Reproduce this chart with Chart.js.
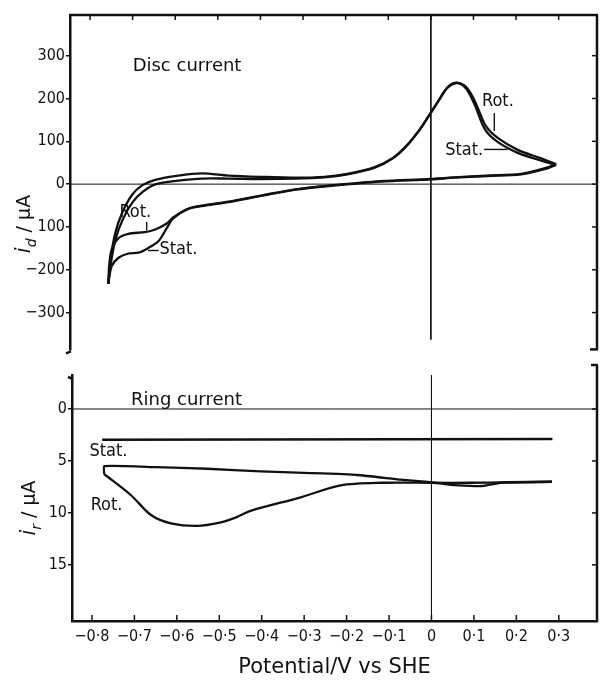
<!DOCTYPE html>
<html><head><meta charset="utf-8">
<script src="https://cdn.jsdelivr.net/npm/chart.js@4.4.1/dist/chart.umd.min.js"></script>
<style>
html,body{margin:0;padding:0;background:#fff;}
#wrap{position:relative;width:600px;height:680px;overflow:hidden;}
#c1{position:absolute;left:0;top:0;}
#c2{position:absolute;left:0;top:360px;}
</style></head><body>
<div id="wrap">
<canvas id="c1" width="600" height="360"></canvas>
<canvas id="c2" width="600" height="320"></canvas>
</div>
<script>
// ---------- data ----------
const xTickValues = [-0.8,-0.7,-0.6,-0.5,-0.4,-0.3,-0.2,-0.1,0,0.1,0.2,0.3];
const xTickLabels = ['\u22120\u00b78','\u22120\u00b77','\u22120\u00b76','\u22120\u00b75','\u22120\u00b74','\u22120\u00b73','\u22120\u00b72','\u22120\u00b71','0','0\u00b71','0\u00b72','0\u00b73'];
const discTickValues = [300,200,100,0,-100,-200,-300];
const discTickLabels = ['300','200','100','0','100','\u2212200','\u2212300'];
const ringTickValues = [0,5,10,15];
const ringTickLabels = ['0','5','10','15'];

// disc current, rotating electrode (anodic sweep, then cathodic sweep)
const discRotFwdV = [-0.757,-0.753,-0.741,-0.725,-0.702,-0.678,-0.647,-0.593,-0.537,-0.475,-0.400,-0.318,-0.250,-0.196,-0.133,-0.088,-0.057,-0.026,-0.006,0.016,0.039,0.059,0.078,0.092,0.106,0.129,0.157,0.204,0.259,0.294];
const discRotFwdI = [-233,-184,-115,-68,-26,-3,10,20,25,20,17,15,17,24,39,62,90,128,158,192,226,237,231,215,188,136,108,80,60,47];
const discRotRevV = [0.294,0.274,0.212,0.133,0.055,0.000,-0.118,-0.235,-0.318,-0.396,-0.475,-0.529,-0.569,-0.605,-0.620,-0.647,-0.671,-0.710,-0.733,-0.749,-0.755,-0.757];
const discRotRevI = [47,39,24,20,16,12,7,-3,-12,-26,-41,-49,-57,-78,-92,-106,-112,-116,-126,-152,-191,-233];
// disc current, stationary electrode
const discStatFwdV = [-0.757,-0.752,-0.740,-0.722,-0.700,-0.675,-0.645,-0.593,-0.537,-0.475,-0.400,-0.318,-0.250,-0.196,-0.133,-0.088,-0.057,-0.026,-0.006,0.016,0.039,0.059,0.076,0.090,0.104,0.127,0.155,0.204,0.259,0.294];
const discStatFwdI = [-233,-190,-128,-80,-42,-17,0,8,13,13,12,13,16,23,38,61,89,127,157,191,225,236,230,212,183,128,100,73,55,45];
const discStatRevV = [0.294,0.274,0.212,0.133,0.055,0.000,-0.118,-0.235,-0.318,-0.396,-0.475,-0.529,-0.569,-0.605,-0.620,-0.639,-0.663,-0.686,-0.710,-0.733,-0.749,-0.755,-0.757];
const discStatRevI = [45,37,23,19,15,11,6,-4,-13,-27,-42,-50,-58,-80,-103,-133,-149,-160,-162,-172,-191,-218,-233];

// ring current
const ringRotFwdV = [-0.771,-0.771,-0.650,-0.528,-0.402,-0.300,-0.175,-0.073,-0.002,0.045,0.090,0.123,0.162,0.220,0.284];
const ringRotFwdI = [6.3,5.5,5.6,5.75,6.0,6.15,6.35,6.8,7.05,7.3,7.4,7.4,7.1,7.05,7.0];
const ringRotRevV = [0.284,0.180,0.092,-0.002,-0.112,-0.214,-0.308,-0.426,-0.465,-0.496,-0.551,-0.614,-0.661,-0.708,-0.767,-0.771];
const ringRotRevI = [7.0,7.05,7.1,7.1,7.1,7.35,8.5,9.8,10.5,10.9,11.25,11.0,10.2,8.3,6.4,6.3];
const ringStatV = [-0.776,0.285];
const ringStatI = [2.95,2.9];

// ---------- helpers ----------
const X_MIN = -0.847, X_MAX = 0.39;
const DISC_MIN = -386, DISC_MAX = 395;
const RING_MIN = -3.27, RING_MAX = 20.4;
const INK = '#111';
const NARROW = "'DejaVu Sans Condensed','Liberation Sans Narrow','DejaVu Sans',sans-serif";
const TICK_FONT = {family: NARROW, size: 16};
const pts = (vs, is) => vs.map((v, k) => ({x: v, y: is[k]}));

function curve(label, data, w, t) {
  return {label, data, borderColor: INK, backgroundColor: INK, borderWidth: w,
          pointRadius: 0, tension: t, fill: false};
}
function seg(ctx, x1, y1, x2, y2) { ctx.beginPath(); ctx.moveTo(x1, y1); ctx.lineTo(x2, y2); ctx.stroke(); }
function dataSeg(chart, v1, i1, v2, i2, w) {
  const {ctx, scales: {x, y}} = chart;
  ctx.save(); ctx.strokeStyle = INK; ctx.lineWidth = w;
  seg(ctx, x.getPixelForValue(v1), y.getPixelForValue(i1), x.getPixelForValue(v2), y.getPixelForValue(i2));
  ctx.restore();
}
function dataText(chart, txt, v, i, font, align, baseline) {
  const {ctx, scales: {x, y}} = chart;
  ctx.save(); ctx.fillStyle = INK; ctx.font = font;
  ctx.textAlign = align || 'left'; ctx.textBaseline = baseline || 'middle';
  ctx.fillText(txt, x.getPixelForValue(v), y.getPixelForValue(i));
  ctx.restore();
}
function yTitle(ctx, cx, cy, sub) {
  ctx.save(); ctx.translate(cx, cy); ctx.rotate(-Math.PI / 2);
  ctx.fillStyle = INK; ctx.textBaseline = 'middle'; ctx.textAlign = 'left';
  const f1 = "italic 21px 'DejaVu Sans'", f2 = "italic 14px 'DejaVu Sans'", f3 = "19px 'DejaVu Sans'";
  ctx.font = f1; const w1 = ctx.measureText('i').width;
  ctx.font = f2; const w2 = ctx.measureText(sub).width;
  ctx.font = f3; const w3 = ctx.measureText(' / \u03bcA').width;
  let p = -(w1 + w2 + w3) / 2;
  ctx.font = f1; ctx.fillText('i', p, 0); p += w1;
  ctx.font = f2; ctx.fillText(sub, p, 7); p += w2;
  ctx.font = f3; ctx.fillText(' / \u03bcA', p, 0);
  ctx.restore();
}
const LABEL_FONT = "18px " + NARROW;
const TITLE_FONT = "18px 'DejaVu Sans'";

// ---------- top panel: disc current ----------
const frameDisc = {
  id: 'frameDisc',
  afterDraw(chart) {
    const {ctx, chartArea: a, scales: {x, y}} = chart;
    ctx.save(); ctx.strokeStyle = INK; ctx.lineCap = 'butt';
    ctx.lineWidth = 2.5;
    seg(ctx, a.left - 1, a.top, a.right + 1, a.top);
    seg(ctx, a.right, a.top, a.right, a.bottom);
    seg(ctx, a.right + 1, a.bottom, a.right - 7, a.bottom);
    seg(ctx, a.left + 1, a.bottom + 2, a.left - 4, a.bottom + 4);
    ctx.lineWidth = 1.5;
    xTickValues.forEach(v => { const px = x.getPixelForValue(v); seg(ctx, px, a.top, px, a.top + 5); });
    discTickValues.forEach(v => { const py = y.getPixelForValue(v); seg(ctx, a.right, py, a.right - 5, py); });
    ctx.restore();
    dataText(chart, 'Disc current', -0.70, 274, TITLE_FONT);
    dataText(chart, 'Rot.', -0.731, -66, LABEL_FONT);
    dataSeg(chart, -0.667, -88, -0.667, -108, 1.4);
    dataText(chart, 'Stat.', -0.637, -153, LABEL_FONT);
    dataSeg(chart, -0.664, -155, -0.639, -155, 1.4);
    dataText(chart, 'Rot.', 0.120, 194, LABEL_FONT);
    dataSeg(chart, 0.149, 166, 0.149, 124, 1.4);
    dataText(chart, 'Stat.', 0.123, 78, LABEL_FONT, 'right');
    dataSeg(chart, 0.125, 81, 0.180, 81, 1.4);
    yTitle(ctx, a.left - 45, 224, 'd');
  }
};

new Chart(document.getElementById('c1'), {
  type: 'line',
  data: {datasets: [
    curve('Disc Rot. anodic', pts(discRotFwdV, discRotFwdI), 2.3, 0.3),
    curve('Disc Rot. cathodic', pts(discRotRevV, discRotRevI), 2.3, 0.3),
    curve('Disc Stat. anodic', pts(discStatFwdV, discStatFwdI), 2.3, 0.3),
    curve('Disc Stat. cathodic', pts(discStatRevV, discStatRevI), 2.3, 0.3),
    curve('zero current', [{x: X_MIN, y: 0}, {x: X_MAX, y: 0}], 1, 0),
    curve('zero potential', [{x: 0, y: DISC_MAX}, {x: 0, y: -363}], 1, 0)
  ]},
  options: {
    responsive: false, animation: false, devicePixelRatio: 1,
    layout: {padding: {top: 15, right: 3, left: 0, bottom: 5}},
    plugins: {legend: {display: false}, tooltip: {enabled: false}},
    scales: {
      x: {type: 'linear', min: X_MIN, max: X_MAX, display: false},
      y: {type: 'linear', min: DISC_MIN, max: DISC_MAX,
          afterFit: s => { s.width = 70; },
          afterBuildTicks: s => { s.ticks = discTickValues.map(v => ({value: v})); },
          ticks: {callback: v => discTickLabels[discTickValues.indexOf(v)], color: INK, font: TICK_FONT, padding: 1, autoSkip: false},
          grid: {drawOnChartArea: false, tickLength: 4, color: INK, lineWidth: 1.5},
          border: {display: true, color: INK, width: 2.5}}
    }
  },
  plugins: [frameDisc]
});

// ---------- bottom panel: ring current ----------
const frameRing = {
  id: 'frameRing',
  afterDraw(chart) {
    const {ctx, chartArea: a, scales: {x, y}} = chart;
    ctx.save(); ctx.strokeStyle = INK; ctx.lineCap = 'butt';
    ctx.lineWidth = 2.5;
    seg(ctx, a.right, a.top - 10, a.right, a.bottom + 1);
    seg(ctx, a.right + 1, a.top - 10, a.right - 6, a.top - 10);
    seg(ctx, a.left + 1, a.top + 4, a.left - 4, a.top + 2);
    ctx.lineWidth = 1.5;
    xTickValues.forEach(v => { const px = x.getPixelForValue(v); seg(ctx, px, a.bottom, px, a.bottom - 6); });
    ringTickValues.forEach(v => { const py = y.getPixelForValue(v); seg(ctx, a.right, py, a.right - 5, py); });
    ctx.restore();
    dataText(chart, 'Ring current', -0.708, -0.35, TITLE_FONT, 'left', 'alphabetic');
    dataText(chart, 'Stat.', -0.806, 4.1, LABEL_FONT);
    dataText(chart, 'Rot.', -0.803, 9.3, LABEL_FONT);
    yTitle(ctx, a.left - 42, 148, 'r');
  }
};

new Chart(document.getElementById('c2'), {
  type: 'line',
  data: {datasets: [
    curve('Ring Rot. a', pts(ringRotFwdV, ringRotFwdI), 2.3, 0.15),
    curve('Ring Rot. b', pts(ringRotRevV, ringRotRevI), 2.3, 0.3),
    curve('Ring Stat.', pts(ringStatV, ringStatI), 2.5, 0),
    curve('zero current', [{x: X_MIN, y: 0}, {x: X_MAX, y: 0}], 1, 0),
    curve('zero potential', [{x: 0, y: RING_MIN}, {x: 0, y: RING_MAX}], 1, 0)
  ]},
  options: {
    responsive: false, animation: false, devicePixelRatio: 1,
    layout: {padding: {top: 15, right: 3, left: 0, bottom: 0}},
    plugins: {legend: {display: false}, tooltip: {enabled: false}},
    scales: {
      x: {type: 'linear', min: X_MIN, max: X_MAX, position: 'bottom',
          afterFit: s => { s.height = 59; },
          afterBuildTicks: s => { s.ticks = xTickValues.map(v => ({value: v})); },
          ticks: {callback: v => xTickLabels[xTickValues.indexOf(v)], color: INK, font: TICK_FONT, padding: 6, autoSkip: false, maxRotation: 0, minRotation: 0},
          grid: {display: false, drawTicks: false},
          border: {display: true, color: INK, width: 2.5},
          title: {display: true, text: 'Potential/V vs SHE', color: INK,
                  font: {family: "'DejaVu Sans',sans-serif", size: 21}, padding: {top: 0, bottom: 0}}},
      y: {type: 'linear', min: RING_MIN, max: RING_MAX, reverse: true,
          afterFit: s => { s.width = 72; },
          afterBuildTicks: s => { s.ticks = ringTickValues.map(v => ({value: v})); },
          ticks: {callback: v => ringTickLabels[ringTickValues.indexOf(v)], color: INK, font: TICK_FONT, padding: 1, autoSkip: false},
          grid: {drawOnChartArea: false, tickLength: 4, color: INK, lineWidth: 1.5},
          border: {display: true, color: INK, width: 2.5}}
    }
  },
  plugins: [frameRing]
});
</script>
</body></html>
